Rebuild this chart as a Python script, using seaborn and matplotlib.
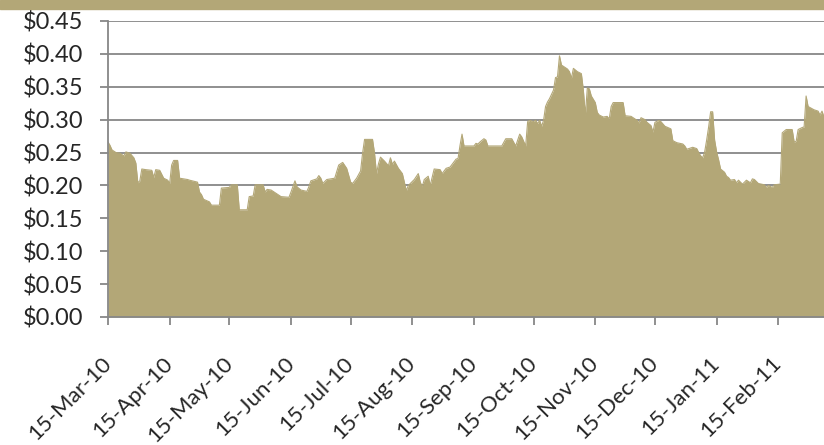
import pandas as pd
import matplotlib
matplotlib.use("Agg")
import matplotlib.pyplot as plt
import matplotlib.dates as mdates
import matplotlib.ticker as mticker
import seaborn as sns

# days counted from 15-Mar-10, price in dollars
days = [0, 1, 2, 4, 6, 8, 9, 11, 13, 14, 15, 16, 17, 19, 22, 23, 24, 26, 28, 30,
        31, 32, 33, 35, 36, 40, 41, 45, 46, 47, 48, 51, 52, 56, 57, 61, 62, 65, 66, 70,
        71, 73, 74, 78, 79, 80, 82, 84, 87, 91, 92, 94, 95, 97, 100, 101, 102, 105, 106, 107,
        108, 110, 114, 116, 118, 120, 122, 123, 125, 127, 128, 129, 133, 134, 135, 136, 137, 139, 141, 142,
        143, 144, 146, 148, 149, 150, 151, 154, 156, 157, 158, 159, 161, 162, 164, 167, 168, 170, 172, 174,
        175, 176, 177, 178, 179, 184, 185, 186, 187, 189, 190, 191, 198, 200, 203, 205, 207, 208, 210, 211,
        212, 214, 215, 216, 217, 218, 219, 220, 221, 222, 224, 225, 226, 227, 228, 229, 231, 232, 233, 234,
        236, 238, 239, 240, 241, 242, 243, 245, 246, 247, 249, 251, 252, 253, 254, 259, 260, 263, 265, 266,
        267, 268, 270, 271, 273, 274, 275, 277, 278, 280, 283, 284, 286, 289, 290, 291, 294, 296, 297, 298,
        299, 300, 301, 302, 303, 304, 305, 306, 307, 308, 310, 311, 312, 313, 315, 316, 317, 319, 321, 323,
        324, 325, 327, 330, 331, 332, 334, 335, 338, 339, 341, 344, 345, 346, 347, 349, 350, 351, 352, 355,
        357, 358, 359, 360, 362]
price = [.266, .261, .254, .250, .249, .245, .251, .249, .242, .234, .204, .207, .225, .224, .223, .212, .224, .223, .211, .208,
         .203, .231, .238, .238, .211, .209, .208, .205, .190, .186, .179, .175, .170, .170, .196, .197, .201, .201, .163, .163,
         .183, .184, .201, .201, .190, .194, .193, .189, .183, .182, .190, .207, .198, .193, .191, .198, .207, .210, .215, .211,
         .203, .209, .211, .231, .235, .226, .205, .203, .211, .222, .249, .270, .270, .249, .218, .233, .243, .237, .230, .242,
         .232, .237, .226, .218, .205, .192, .200, .209, .218, .205, .198, .209, .214, .200, .225, .224, .218, .226, .228, .236,
         .240, .241, .261, .278, .260, .260, .264, .263, .266, .271, .269, .260, .260, .271, .271, .260, .278, .274, .260, .297,
         .299, .297, .299, .294, .299, .290, .299, .320, .327, .332, .345, .364, .365, .397, .383, .381, .377, .373, .363, .378,
         .373, .370, .345, .307, .348, .347, .336, .326, .311, .307, .304, .305, .301, .320, .326, .326, .306, .305, .301, .299,
         .295, .303, .300, .296, .291, .281, .296, .299, .297, .290, .286, .268, .265, .263, .260, .255, .258, .256, .250, .245,
         .242, .251, .269, .289, .312, .312, .269, .251, .239, .225, .220, .214, .212, .208, .209, .204, .208, .202, .208, .204,
         .210, .209, .203, .201, .197, .200, .197, .201, .202, .280, .285, .285, .266, .267, .285, .288, .289, .336, .320, .315,
         .313, .307, .313, .304, .305]

tick_dates = ["2010-03-15", "2010-04-15", "2010-05-15", "2010-06-15", "2010-07-15", "2010-08-15",
              "2010-09-15", "2010-10-15", "2010-11-15", "2010-12-15", "2011-01-15", "2011-02-15"]

start = pd.Timestamp("2010-03-15")
df = pd.DataFrame({"date": start + pd.to_timedelta(days, unit="D"), "price": price})

khaki = "#B3A777"
grey = "#878787"

sns.set_style("white")
plt.rcParams["font.family"] = ["Lato", "DejaVu Sans"]

fig = plt.figure(figsize=(8.24, 4.45), dpi=100)
ax = fig.add_axes([108 / 824, 1 - 317 / 445, 1 - 108 / 824, 296 / 445])

# band across the top
fig.patches.append(plt.Rectangle((0, 1 - 9 / 445), 1, 9 / 445, transform=fig.transFigure,
                                 color=khaki, zorder=0))

ax.fill_between(df["date"], df["price"], color=khaki, lw=0, zorder=2)
sns.lineplot(data=df, x="date", y="price", ax=ax, color=khaki, lw=0.8, zorder=2)

ax.set_xlim(start, start + pd.Timedelta(days=360))
ax.set_ylim(0, 0.45)
ax.yaxis.set_major_locator(mticker.MultipleLocator(0.05))
ax.yaxis.set_major_formatter(mticker.FuncFormatter(lambda v, p: f"${v:.2f}"))
ax.set_xticks(pd.to_datetime(tick_dates))
ax.xaxis.set_major_formatter(mdates.DateFormatter("%d-%b-%y"))

ax.set_axisbelow(True)
ax.grid(axis="y", color=grey, lw=1.3)
ax.grid(axis="x", visible=False)
for s in ["top", "right"]:
    ax.spines[s].set_visible(False)
for s in ["left", "bottom"]:
    ax.spines[s].set_color(grey)
    ax.spines[s].set_linewidth(1.3)
    ax.spines[s].set_zorder(3)

ax.tick_params(axis="y", length=6, width=1.3, color=grey, pad=12, labelsize=17, direction="out", left=True)
ax.tick_params(axis="x", length=6, width=1.3, color=grey, pad=25, labelsize=16, direction="out", bottom=True)
for lab in ax.get_xticklabels():
    lab.set_rotation(45)
    lab.set_ha("right")
    lab.set_va("center")
    lab.set_rotation_mode("anchor")

ax.set_xlabel("")
ax.set_ylabel("")

fig.savefig("out.png", dpi=100)
